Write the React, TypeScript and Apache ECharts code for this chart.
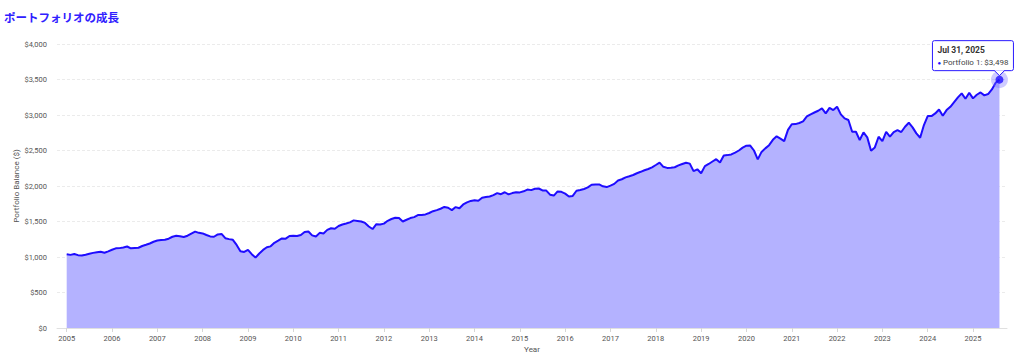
import React, { useEffect, useRef } from "react";
import * as echarts from "echarts";

// Portfolio balance at the start (Jan 2005) and at each month end, by period
const balance2005to2009: number[] = [
  1038, 1030, 1042, 1026, 1020, 1032, 1045, 1058, 1068, 1075,
  1060, 1080, 1102, 1122, 1125, 1135, 1148, 1122, 1126, 1130,
  1155, 1172, 1190, 1215, 1232, 1238, 1243, 1258, 1285, 1298,
  1292, 1282, 1300, 1330, 1358, 1340, 1332, 1310, 1290, 1285,
  1318, 1325, 1265, 1252, 1242, 1170, 1080, 1072, 1100, 1040,
  992, 1050, 1100, 1137, 1150, 1200, 1230, 1262, 1258, 1296,
  1300,
];
const balance2010to2014: number[] = [
  1297, 1310, 1352, 1360, 1305, 1288, 1340, 1332, 1382, 1405,
  1398, 1436, 1458, 1472, 1488, 1516, 1508, 1500, 1480, 1430,
  1394, 1462, 1458, 1470, 1510, 1535, 1553, 1548, 1500, 1525,
  1548, 1562, 1590, 1592, 1600, 1620, 1645, 1660, 1680, 1705,
  1694, 1660, 1703, 1686, 1740, 1770, 1790, 1800, 1793, 1835,
  1845, 1852, 1872, 1900, 1885, 1912, 1882, 1900, 1912, 1910,
];
const balance2015to2019: number[] = [
  1925, 1950, 1942, 1962, 1965, 1938, 1935, 1878, 1865, 1924,
  1918, 1893, 1853, 1860, 1933, 1945, 1958, 1980, 2018, 2022,
  2022, 1995, 1985, 2005, 2030, 2078, 2095, 2122, 2138, 2155,
  2180, 2200, 2222, 2240, 2263, 2296, 2330, 2270, 2255, 2258,
  2264, 2290, 2310, 2328, 2315, 2210, 2235, 2180, 2280, 2310,
  2345, 2378, 2330, 2430, 2435, 2445, 2470, 2500, 2540, 2568,
];
const balance2020to2025: number[] = [
  2570, 2500, 2375, 2480, 2530, 2575, 2650, 2700, 2668, 2633,
  2790, 2870, 2872, 2888, 2910, 2980, 3010, 3035, 3060, 3093,
  3022, 3100, 3069, 3116, 3008, 2952, 2929, 2764, 2764, 2647,
  2755, 2685, 2497, 2544, 2694, 2633, 2764, 2694, 2760, 2788,
  2760, 2835, 2891, 2826, 2741, 2680, 2858, 2985, 2985, 3022,
  3078, 2990, 3069, 3116, 3182, 3248, 3304, 3229, 3313, 3234,
  3285, 3318, 3276, 3295, 3360, 3454, 3498,
];
const startYear = 2005;
const yearTicks: number[] = [
  2005, 2006, 2007, 2008, 2009, 2010, 2011, 2012, 2013, 2014, 2015,
  2016, 2017, 2018, 2019, 2020, 2021, 2022, 2023, 2024, 2025,
];
const monthNames = ["Jan", "Feb", "Mar", "Apr", "May", "Jun", "Jul", "Aug", "Sep", "Oct", "Nov", "Dec"];
const seriesName = "Portfolio 1";
const titleText = "ポートフォリオの成長";

const LINE = "#1e0cff";
const FILL = "#b4b2ff";
const FONT = "Roboto, 'Noto Sans', sans-serif";

export default function App() {
  const ref = useRef<HTMLDivElement>(null);
  useEffect(() => {
    document.body.style.margin = "0";
    if (!ref.current) return;
    const chart = echarts.init(ref.current, undefined, { renderer: "svg" });
    const balances = [...balance2005to2009, ...balance2010to2014, ...balance2015to2019, ...balance2020to2025];
    const data = balances.map((v, i) => [startYear + i / 12, v]);
    const lastIdx = balances.length - 1;
    const last = data[lastIdx];
    const lastDate = new Date(startYear, lastIdx, 0);
    const dateLabel = `${monthNames[lastDate.getMonth()]} ${lastDate.getDate()}, ${lastDate.getFullYear()}`;
    const money = (v: number) => "$" + Math.round(v).toLocaleString("en-US");

    chart.setOption({
      animation: false,
      title: {
        text: titleText,
        left: 4,
        top: 11,
        padding: 0,
        textStyle: { fontSize: 11.5, fontWeight: "bold", color: "#3020ff", fontFamily: "'Noto Sans CJK JP', sans-serif" },
      },
      grid: { left: 57, right: 17, top: 44, bottom: 27, containLabel: false, outerBoundsMode: "none" },
      xAxis: {
        type: "value",
        min: 2004.786,
        max: 2025.75,
        name: "Year",
        nameLocation: "middle",
        nameGap: 17,
        nameMoveOverlap: false,
        nameTextStyle: { fontSize: 8, color: "#555", fontFamily: FONT },
        axisLine: { show: true, lineStyle: { color: "#e0e0e0" } },
        axisTick: { show: true, customValues: yearTicks, length: 4, lineStyle: { color: "#d6d6d6" } },
        axisLabel: {
          customValues: yearTicks,
          formatter: (v: number) => String(Math.round(v)),
          fontSize: 7.5,
          color: "#555",
          margin: 6,
          fontFamily: FONT,
        },
        splitLine: { show: false },
      },
      yAxis: {
        type: "value",
        min: 0,
        max: 4000,
        interval: 500,
        name: "Portfolio Balance ($)",
        nameLocation: "middle",
        nameGap: 37,
        nameMoveOverlap: false,
        nameTextStyle: { fontSize: 8, color: "#555", fontFamily: FONT },
        axisLine: { show: false },
        axisTick: { show: false },
        axisLabel: { formatter: (v: number) => money(v), fontSize: 7.5, color: "#555", margin: 10, fontFamily: FONT },
        splitLine: { show: true, lineStyle: { color: "#ebebeb", type: [3, 2] } },
      },
      series: [
        {
          name: seriesName,
          type: "line",
          data,
          showSymbol: false,
          lineStyle: { color: LINE, width: 2 },
          areaStyle: { color: FILL, opacity: 1 },
          silent: true,
          z: 2,
        },
        {
          type: "scatter",
          data: [last],
          symbolSize: 17,
          itemStyle: { color: "rgba(120,110,255,0.45)" },
          silent: true,
          z: 3,
        },
        {
          type: "scatter",
          data: [last],
          symbolSize: 8,
          itemStyle: { color: LINE },
          silent: true,
          z: 4,
        },
      ],
    });

    const [px, py] = chart.convertToPixel({ gridIndex: 0 }, last as number[]);
    const boxW = 81;
    const boxH = 30;
    const boxL = px - 67;
    const boxT = py - 39;
    const boxB = boxT + boxH;
    chart.setOption({
      graphic: [
        {
          type: "group",
          z: 100,
          children: [
            {
              type: "rect",
              shape: { x: boxL, y: boxT, width: boxW, height: boxH, r: 2 },
              style: { fill: "#fff", stroke: "#2a1aff", lineWidth: 1 },
              z: 100,
            },
            {
              type: "polygon",
              shape: { points: [[px - 5, boxB - 0.5], [px + 5, boxB - 0.5], [px, boxB + 5]] },
              style: { fill: "#fff" },
              z: 101,
            },
            {
              type: "polyline",
              shape: { points: [[px - 5, boxB], [px, boxB + 5], [px + 5, boxB]] },
              style: { stroke: "#2a1aff", lineWidth: 1, fill: null },
              z: 102,
            },
            {
              type: "text",
              x: boxL + 5,
              y: boxT + 9.5,
              style: {
                text: dateLabel,
                fontSize: 8.5,
                fontWeight: "bold",
                fill: "#333",
                fontFamily: FONT,
                verticalAlign: "middle",
              },
              z: 103,
            },
            {
              type: "text",
              x: boxL + 5,
              y: boxT + 21.5,
              style: {
                text: `{d|●} ${seriesName}: ${money(last[1])}`,
                fontSize: 8,
                fill: "#444",
                fontFamily: FONT,
                verticalAlign: "middle",
                rich: { d: { fill: LINE, fontSize: 6, fontFamily: FONT } },
              },
              z: 103,
            },
          ],
        },
      ],
    });

    return () => chart.dispose();
  }, []);
  return <div ref={ref} style={{ width: 1024, height: 355 }} />;
}
